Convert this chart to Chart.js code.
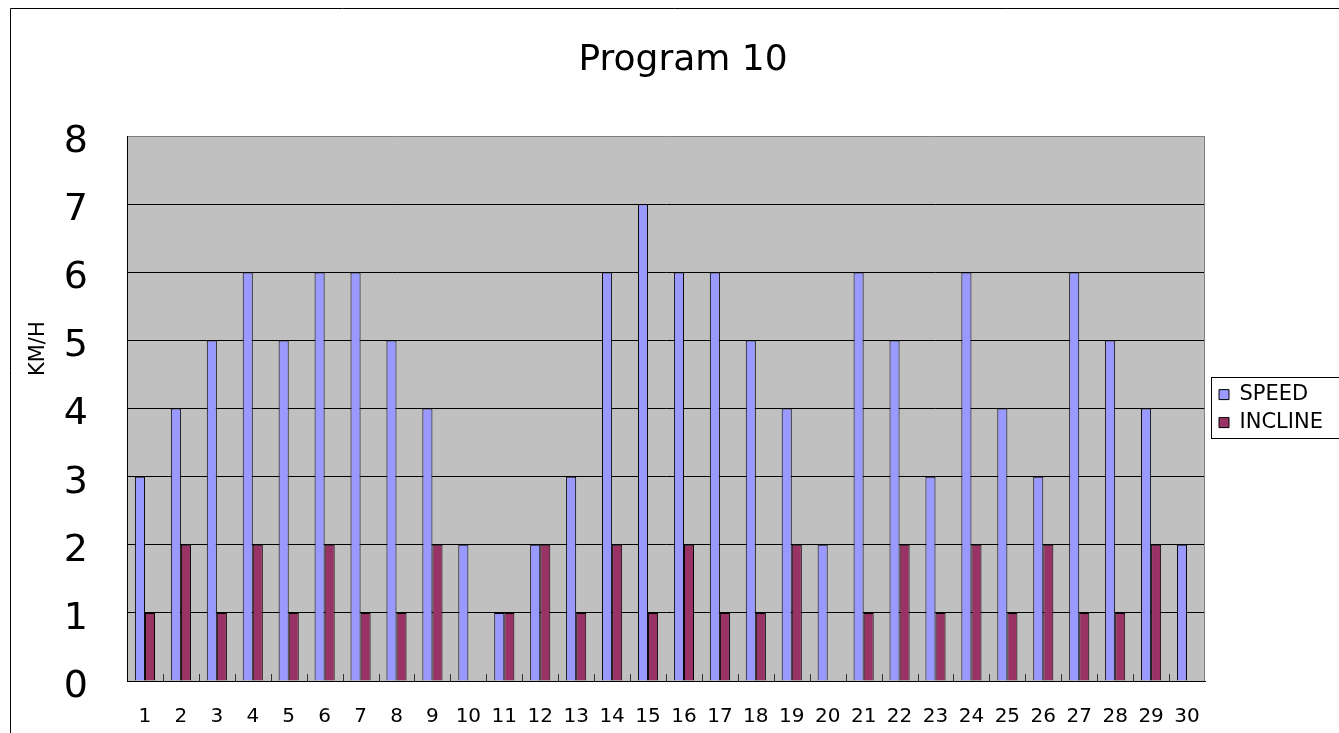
<!DOCTYPE html>
<html>
	<head>
		<title>Program 10</title>
		<meta charset="utf-8">
		<script src="https://cdn.jsdelivr.net/npm/chart.js"></script>
		<style>
			body{margin:0;background:#fff;}
		</style>
	</head>
	<body>
		<canvas id="prog" width="1339" height="733"></canvas>
		<script>
			// values
			const steps = ['1','2','3','4','5','6','7','8','9','10','11','12','13','14','15','16','17','18','19','20','21','22','23','24','25','26','27','28','29','30'];
			const speed = [3,4,5,6,5,6,6,5,4,2,1,2,3,6,7,6,6,5,4,2,6,5,3,6,4,3,6,5,4,2];
			const incline = [1,2,1,2,1,2,1,1,2,0,1,2,1,2,1,2,1,1,2,0,1,2,1,2,1,2,1,1,2,0];
			const yTicks = [0,1,2,3,4,5,6,7,8];
			const yTitle = 'KM/H';

			// frame, grey plot area, small ticks between steps, legend box
			const excelLook = {
				id:'excelLook',
				beforeLayout(chart){
					const l=chart.legend;
					if(l && !l._wide){
						const f=l.fit, d=l.draw;
						l.fit=function(){f.call(this);this.width=134;};
						// keep the legend next to the middle of the plot area
						l.draw=function(a){
							const c=this.ctx, ca=chart.chartArea;
							this._dy=(ca.top+ca.bottom)/2-(this.top+this.bottom)/2;
							c.save();c.translate(7,this._dy);d.call(this,a);c.restore();
						};
						l._wide=true;
					}
				},
				beforeDraw(chart){
					const c=chart.ctx, a=chart.chartArea;
					c.save();
					c.strokeStyle='#000';c.lineWidth=1;
					c.beginPath();c.moveTo(10.5,chart.height);c.lineTo(10.5,8.5);c.lineTo(chart.width,8.5);c.stroke();
					c.fillStyle='#c0c0c0';
					c.fillRect(a.left,a.top,a.right-a.left,a.bottom-a.top);
					// axis title, sits a bit above the middle like the original
					c.translate(39,a.top+(a.bottom-a.top)*0.39);
					c.rotate(-Math.PI/2);
					c.fillStyle='#000';
					c.font='21px "DejaVu Sans"';
					c.textAlign='center';c.textBaseline='middle';
					c.fillText(yTitle,0,0);
					c.restore();
				},
				afterDatasetsDraw(chart){
					const c=chart.ctx, a=chart.chartArea, x=chart.scales.x;
					const w=(a.right-a.left)/steps.length;
					c.save();
					c.strokeStyle='#808080';c.lineWidth=1;
					c.beginPath();c.moveTo(a.right-0.5,a.top);c.lineTo(a.right-0.5,a.bottom);c.stroke();
					c.strokeStyle='#333';
					c.beginPath();
					for(let i=1;i<steps.length;i++){
						const px=Math.round(x.getPixelForValue(i)-w/2)+0.5;
						c.moveTo(px,a.bottom);c.lineTo(px,a.bottom-7);
					}
					c.stroke();
					c.restore();
				},
				afterDraw(chart){
					const l=chart.legend, hb=l.legendHitBoxes, c=chart.ctx;
					if(!hb || !hb.length) return;
					const dy=l._dy||0, last=hb[hb.length-1];
					const top=Math.round(hb[0].top+dy-7)+0.5;
					const bottom=Math.round(last.top+last.height+dy+5)+0.5;
					c.save();
					c.strokeStyle='#000';c.lineWidth=1;
					c.strokeRect(Math.round(hb[0].left-1)+0.5,top,chart.width,bottom-top);
					c.restore();
				}
			};

			const data = {
				labels: steps,
				datasets: [{
					label:'SPEED',
					data: speed,
					backgroundColor:'#9999ff',
					borderColor:'#000',
					borderWidth:1,
					borderSkipped:'start'
				},{
					label:'INCLINE',
					data: incline,
					backgroundColor:'#993366',
					borderColor:'#000',
					borderWidth:1,
					borderSkipped:'start'
				}]
			};

			const config = {
				type:'bar',
				data:data,
				plugins:[excelLook],
				options:{
					responsive:false,
					animation:false,
					devicePixelRatio:1,
					layout:{padding:{left:27,right:0,top:0,bottom:6}},
					datasets:{bar:{categoryPercentage:0.56,barPercentage:1}},
					plugins:{
						title:{
							display:true,
							text:'Program 10',
							color:'#000',
							font:{family:'DejaVu Sans',size:36,weight:'normal'},
							padding:{top:39,bottom:54}
						},
						legend:{
							position:'right',
							align:'center',
							labels:{
								color:'#000',
								font:{family:'DejaVu Sans',size:21},
								boxWidth:10,
								boxHeight:10,
								padding:7
							}
						},
						tooltip:{enabled:false}
					},
					scales:{
						x:{
							afterFit(s){s.height=46;},
							grid:{display:false,drawTicks:false},
							border:{color:'#000',width:1},
							ticks:{color:'#000',font:{family:'DejaVu Sans',size:20},padding:24,maxRotation:0,autoSkip:false}
						},
						y:{
							min:0,max:8,
							afterFit(s){s.width=100;s.paddingTop=0;s.paddingBottom=0;},
							afterBuildTicks(s){s.ticks=yTicks.map(v=>({value:v}));},
							grid:{
								drawTicks:false,
								color:ctx=>ctx.tick && ctx.tick.value===8?'#808080':'#000'
							},
							border:{color:'#000',width:1},
							ticks:{color:'#000',font:{family:'DejaVu Sans',size:38},padding:39,labelOffset:6}
						}
					}
				}
			};

			const myChart = new Chart(document.getElementById('prog'),config);
		</script>
	</body>
</html>
